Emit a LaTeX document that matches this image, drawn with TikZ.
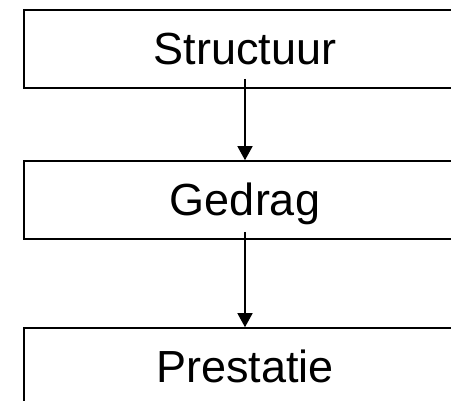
\documentclass[tikz,border=0pt]{standalone}
\usepackage{fontspec}
\setmainfont{Liberation Sans}
\usetikzlibrary{arrows.meta}
\begin{document}
\begin{tikzpicture}[x=1pt,y=1pt,
  stagebox/.style={draw=black,line width=1.6pt,minimum width=442pt,minimum height=78pt,
    inner sep=0pt,text height=32pt,text depth=0pt,font=\fontsize{45}{54}\selectfont},
  flow/.style={line width=1.5pt,-{Triangle[length=14pt,width=15pt]}}]
\useasboundingbox (0,0) rectangle (451,401);
\clip (0,0) rectangle (451,401);
\fill[white] (0,0) rectangle (451,401);
\node[stagebox] (b1) at (245,352) {Structuur};
\node[stagebox] (b2) at (245,201) {Gedrag};
\node[stagebox] (b3) at (245,34) {Prestatie};
\draw[flow] ([yshift=10pt]b1.south) -- (b2.north);
\draw[flow] ([yshift=8pt]b2.south) -- (b3.north);
\end{tikzpicture}
\end{document}
